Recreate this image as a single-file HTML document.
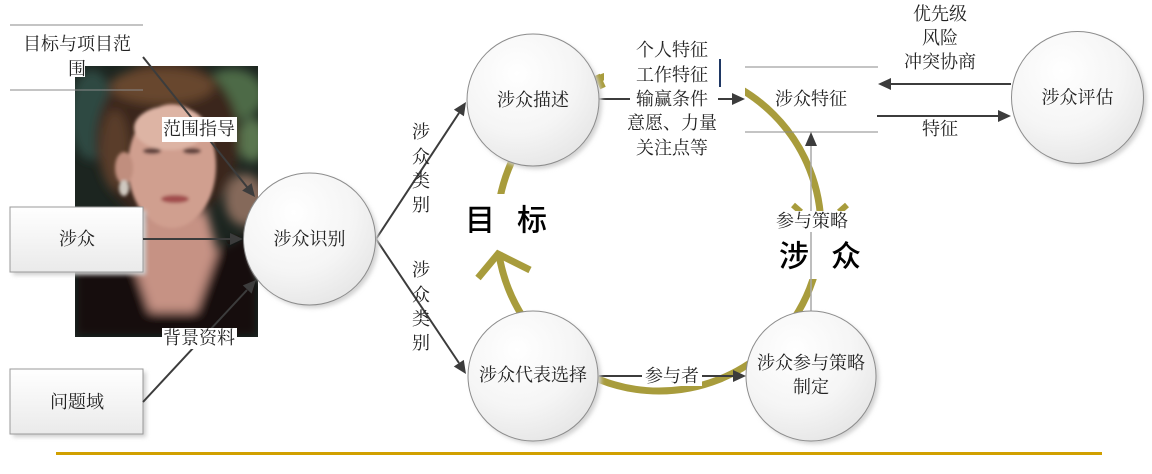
<!DOCTYPE html>
<html><head><meta charset="utf-8"><style>
html,body{margin:0;padding:0;background:#fff;}
svg{display:block;}
.t{font-family:"Liberation Serif","Noto Serif CJK SC",serif;font-size:18px;fill:#222;}
.b{font-family:"Liberation Sans","Noto Sans CJK SC",sans-serif;font-size:30px;font-weight:500;fill:#000;}
</style></head><body>
<svg width="1152" height="474" viewBox="0 0 1152 474" xmlns="http://www.w3.org/2000/svg">
<defs>
<radialGradient id="cg" cx="0.38" cy="0.3" r="0.75">
<stop offset="0" stop-color="#ffffff"/><stop offset="0.6" stop-color="#f5f5f5"/><stop offset="1" stop-color="#e6e6e6"/>
</radialGradient>
<linearGradient id="bg" x1="0" y1="0" x2="0" y2="1">
<stop offset="0" stop-color="#ffffff"/><stop offset="1" stop-color="#eaeaea"/>
</linearGradient>
<filter id="sh" x="-20%" y="-20%" width="140%" height="140%"><feGaussianBlur stdDeviation="2"/></filter>
<filter id="pb" x="-10%" y="-10%" width="120%" height="120%"><feGaussianBlur stdDeviation="5"/></filter>
<filter id="pb2"><feGaussianBlur stdDeviation="1.5"/></filter>
<clipPath id="pc"><rect x="75" y="66" width="183" height="271"/></clipPath>
</defs>

<!-- photo -->
<g clip-path="url(#pc)">
<rect x="75" y="66" width="183" height="271" fill="#1c2520"/>
<g filter="url(#pb)">
<ellipse cx="232" cy="95" rx="32" ry="26" fill="#4d6a47"/>
<ellipse cx="252" cy="140" rx="14" ry="22" fill="#5a7650"/>
<ellipse cx="92" cy="115" rx="22" ry="45" fill="#2e4843"/>
<ellipse cx="245" cy="200" rx="20" ry="26" fill="#85695a"/>
<ellipse cx="168" cy="140" rx="72" ry="82" fill="#3a261b"/>
<ellipse cx="162" cy="86" rx="52" ry="18" fill="#67472f"/>
<ellipse cx="115" cy="150" rx="14" ry="40" fill="#5a3c2a"/>
<polygon points="140,212 207,212 218,255 196,312 150,312 124,255" fill="#c69284"/>
<polygon points="75,232 128,248 150,312 196,312 218,250 258,228 258,337 75,337" fill="#17110f"/>
</g>
<g filter="url(#pb2)">
<ellipse cx="172" cy="166" rx="44" ry="62" fill="#d09f8f"/>
<ellipse cx="170" cy="128" rx="36" ry="22" fill="#ddb4a4"/>
<ellipse cx="124" cy="168" rx="9" ry="16" fill="#c08e7e"/>
<ellipse cx="124" cy="188" rx="5" ry="8" fill="#cfc8c0"/>
<ellipse cx="152" cy="151" rx="9" ry="3" fill="#5e403a"/>
<ellipse cx="192" cy="151" rx="9" ry="3" fill="#5e403a"/>
<ellipse cx="175" cy="199" rx="14" ry="4" fill="#a24e4e"/>
</g>
</g>

<!-- olive cycle -->
<circle cx="659" cy="229" r="162" fill="none" stroke="#a89c3c" stroke-width="7"/>
<rect x="604" y="30" width="141" height="135" fill="#fff"/>
<rect x="478" y="194" width="45" height="58" fill="#fff"/>
<rect x="796" y="211" width="48" height="68" fill="#fff"/>
<path d="M597,75 L603,88" stroke="#a89c3c" stroke-width="6" fill="none"/>
<polyline points="478,278 498,254 530,270" fill="none" stroke="#a89c3c" stroke-width="7"/>
<line x1="793" y1="205" x2="801" y2="212" stroke="#a89c3c" stroke-width="6"/>
<line x1="847" y1="205" x2="839" y2="212" stroke="#a89c3c" stroke-width="6"/>

<!-- stores -->
<g stroke="#8a8a8a" stroke-width="1">
<line x1="10" y1="25" x2="143" y2="25"/>
<line x1="10" y1="90" x2="143" y2="90"/>
<line x1="745" y1="67" x2="878" y2="67"/>
<line x1="745" y1="132" x2="878" y2="132"/>
</g>
<rect x="67" y="60" width="18" height="17" fill="#fff"/>
<text class="t" x="77" y="44" text-anchor="middle" dominant-baseline="central">目标与项目范</text>
<text class="t" x="77" y="69" text-anchor="middle" dominant-baseline="central">围</text>
<text class="t" x="811" y="99" text-anchor="middle" dominant-baseline="central">涉众特征</text>

<!-- boxes -->
<rect x="13" y="210" width="133" height="65" fill="#cfcfcf" filter="url(#sh)"/>
<rect x="10" y="207" width="133" height="65" fill="url(#bg)" stroke="#999" stroke-width="1"/>
<text class="t" x="77" y="239" text-anchor="middle" dominant-baseline="central">涉众</text>
<rect x="13" y="372" width="133" height="65" fill="#cfcfcf" filter="url(#sh)"/>
<rect x="10" y="369" width="133" height="65" fill="url(#bg)" stroke="#999" stroke-width="1"/>
<text class="t" x="77" y="402" text-anchor="middle" dominant-baseline="central">问题域</text>

<!-- arrows -->
<g stroke="#3c3c3c" stroke-width="2" fill="none">
<line x1="143" y1="239" x2="231" y2="239"/>
<line x1="143" y1="57" x2="247" y2="187"/>
<line x1="143" y1="402" x2="247" y2="290"/>
<line x1="376" y1="239" x2="459" y2="113"/>
<line x1="376" y1="239" x2="459" y2="363"/>
<line x1="599" y1="99" x2="630" y2="99"/>
<line x1="718" y1="99" x2="734" y2="99"/>
<line x1="1011" y1="84" x2="890" y2="84"/>
<line x1="877" y1="116" x2="999" y2="116"/>
<line x1="599" y1="376" x2="734" y2="376"/>
</g>
<line x1="811" y1="312" x2="811" y2="145" stroke="#a8a8a8" stroke-width="1.5"/>
<g fill="#3c3c3c">
<polygon points="243,239 230,233 230,245"/>
<polygon points="255,197 242.2,190.6 251.6,183.1"/>
<polygon points="256,280 251.6,293.6 242.8,285.4"/>
<polygon points="466,102 463.9,116.2 453.9,109.6"/>
<polygon points="466,374 453.8,366.5 463.8,359.9"/>
<polygon points="745,99 732,93 732,105"/>
<polygon points="878,84 891,78 891,90"/>
<polygon points="1011,116 998,110 998,122"/>
<polygon points="746,376 733,370 733,382"/>
<polygon points="811,132 805,146 817,146"/>
</g>
<rect x="719" y="59" width="2" height="28" fill="#1f3864"/>

<!-- labels with bg -->
<rect x="162" y="117" width="75" height="25" fill="#fff"/>
<text class="t" x="199" y="129" text-anchor="middle" dominant-baseline="central">范围指导</text>
<rect x="162" y="328" width="75" height="21" fill="#fff"/>
<text class="t" x="199" y="338" text-anchor="middle" dominant-baseline="central">背景资料</text>
<rect x="642" y="366" width="60" height="20" fill="#fff"/>
<text class="t" x="672" y="376" text-anchor="middle" dominant-baseline="central">参与者</text>
<rect x="776" y="211" width="72" height="21" fill="#fff"/>
<text class="t" x="812" y="221" text-anchor="middle" dominant-baseline="central">参与策略</text>

<g class="t" text-anchor="middle" dominant-baseline="central">
<text class="t" x="672" y="50" text-anchor="middle" dominant-baseline="central">个人特征</text>
<text class="t" x="672" y="75" text-anchor="middle" dominant-baseline="central">工作特征</text>
<text class="t" x="672" y="99" text-anchor="middle" dominant-baseline="central">输赢条件</text>
<text class="t" x="672" y="123" text-anchor="middle" dominant-baseline="central">意愿、力量</text>
<text class="t" x="672" y="148" text-anchor="middle" dominant-baseline="central">关注点等</text>
<text class="t" x="940" y="14" text-anchor="middle" dominant-baseline="central">优先级</text>
<text class="t" x="940" y="38" text-anchor="middle" dominant-baseline="central">风险</text>
<text class="t" x="940" y="62" text-anchor="middle" dominant-baseline="central">冲突协商</text>
<text class="t" x="940" y="129" text-anchor="middle" dominant-baseline="central">特征</text>
<text class="t" x="421" y="132" text-anchor="middle" dominant-baseline="central">涉</text>
<text class="t" x="421" y="157" text-anchor="middle" dominant-baseline="central">众</text>
<text class="t" x="421" y="181" text-anchor="middle" dominant-baseline="central">类</text>
<text class="t" x="421" y="205" text-anchor="middle" dominant-baseline="central">别</text>
<text class="t" x="421" y="270" text-anchor="middle" dominant-baseline="central">涉</text>
<text class="t" x="421" y="295" text-anchor="middle" dominant-baseline="central">众</text>
<text class="t" x="421" y="319" text-anchor="middle" dominant-baseline="central">类</text>
<text class="t" x="421" y="343" text-anchor="middle" dominant-baseline="central">别</text>
</g>

<text class="b" x="480" y="221" text-anchor="middle" dominant-baseline="central">目</text>
<text class="b" x="532" y="221" text-anchor="middle" dominant-baseline="central">标</text>
<text class="b" x="794" y="257" text-anchor="middle" dominant-baseline="central">涉</text>
<text class="b" x="846" y="257" text-anchor="middle" dominant-baseline="central">众</text>

<!-- circles -->
<g>
<circle cx="312.5" cy="242" r="66" fill="#d2d2d2" filter="url(#sh)"/>
<circle cx="309.5" cy="239" r="66" fill="url(#cg)" stroke="#8c8c8c" stroke-width="1"/>
<text class="t" x="309.5" y="239" text-anchor="middle" dominant-baseline="central">涉众识别</text>

<circle cx="536" cy="103" r="66" fill="#d2d2d2" filter="url(#sh)"/>
<circle cx="533" cy="100" r="66" fill="url(#cg)" stroke="#8c8c8c" stroke-width="1"/>
<text class="t" x="533" y="100" text-anchor="middle" dominant-baseline="central">涉众描述</text>

<circle cx="536" cy="379" r="65" fill="#d2d2d2" filter="url(#sh)"/>
<circle cx="533" cy="376" r="65" fill="url(#cg)" stroke="#8c8c8c" stroke-width="1"/>
<text class="t" x="533" y="375" text-anchor="middle" dominant-baseline="central">涉众代表选择</text>

<circle cx="814" cy="379" r="65" fill="#d2d2d2" filter="url(#sh)"/>
<circle cx="811" cy="376" r="65" fill="url(#cg)" stroke="#8c8c8c" stroke-width="1"/>
<text class="t" x="811" y="363" text-anchor="middle" dominant-baseline="central">涉众参与策略</text>
<text class="t" x="811" y="387" text-anchor="middle" dominant-baseline="central">制定</text>

<circle cx="1080.5" cy="100.5" r="66" fill="#d2d2d2" filter="url(#sh)"/>
<circle cx="1077.5" cy="97.5" r="66" fill="url(#cg)" stroke="#8c8c8c" stroke-width="1"/>
<text class="t" x="1077.5" y="97.5" text-anchor="middle" dominant-baseline="central">涉众评估</text>
</g>

<rect x="56" y="452" width="1046" height="3" fill="#d1a000"/>
</svg>
</body></html>
